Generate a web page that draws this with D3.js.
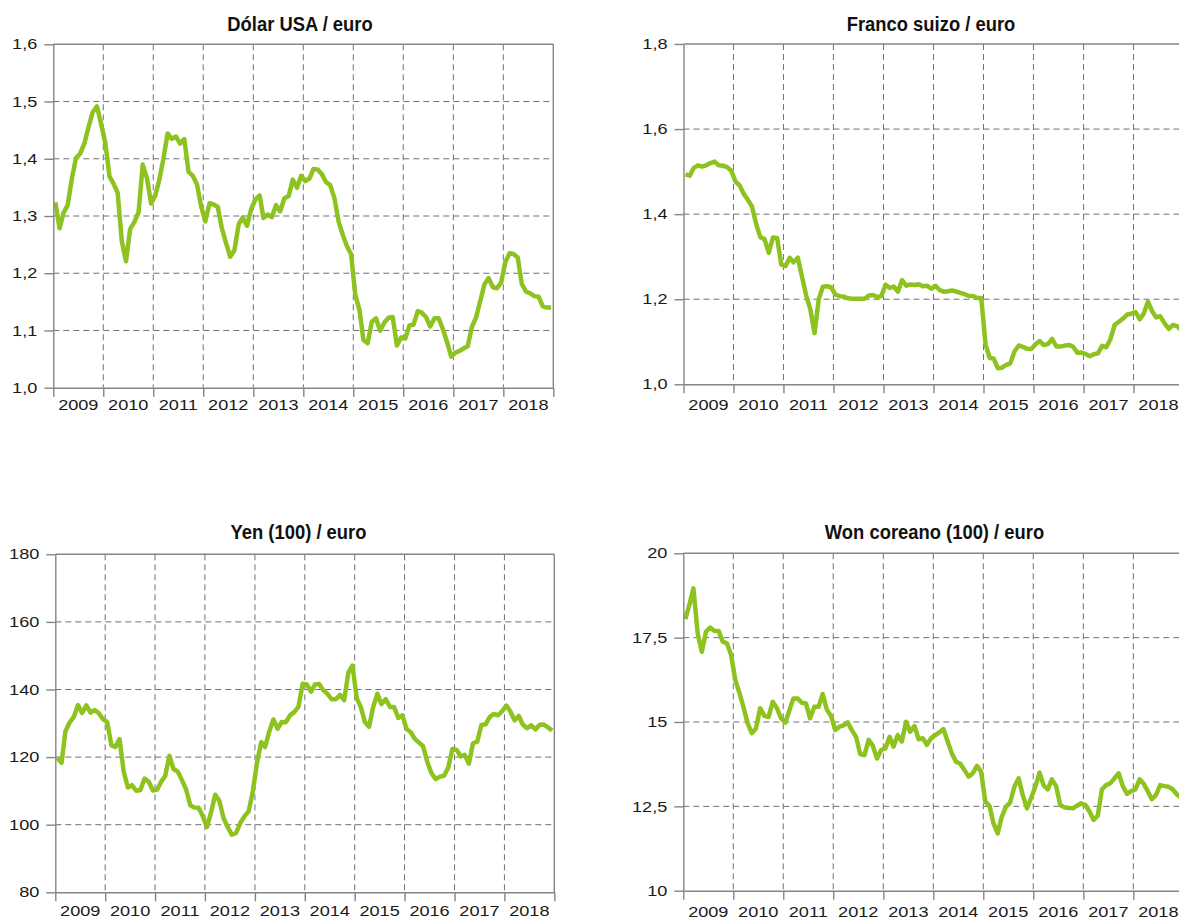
<!DOCTYPE html>
<html><head><meta charset="utf-8">
<script src="https://cdn.jsdelivr.net/npm/d3@7"></script>
<style>body{margin:0;background:#fff} svg{display:block}</style>
</head><body>
<svg id="c" width="1179" height="919"></svg>
<script>
const yearLabels = ["2009","2010","2011","2012","2013","2014","2015","2016","2017","2018"];
const usdTicks = [1.0,1.1,1.2,1.3,1.4,1.5,1.6];
const chfTicks = [1.0,1.2,1.4,1.6,1.8];
const jpyTicks = [80,100,120,140,160,180];
const krwTicks = [10,12.5,15,17.5,20];

const usd = [
1.3239,1.2785,1.3050,1.3190,1.3650,1.4016,1.4088,1.4268,1.4562,1.4816,1.4914,1.4614,
1.4272,1.3686,1.3569,1.3406,1.2565,1.2209,1.2770,1.2894,1.3067,1.3898,1.3661,1.3220,
1.3360,1.3649,1.3999,1.4442,1.4349,1.4388,1.4264,1.4343,1.3770,1.3706,1.3556,1.3179,
1.2905,1.3224,1.3201,1.3162,1.2789,1.2526,1.2288,1.2400,1.2856,1.2974,1.2828,1.3119,
1.3288,1.3359,1.2964,1.3026,1.2982,1.3189,1.3080,1.3310,1.3348,1.3635,1.3493,1.3704,
1.3610,1.3659,1.3823,1.3813,1.3732,1.3592,1.3539,1.3316,1.2901,1.2673,1.2472,1.2331,
1.1621,1.1350,1.0838,1.0779,1.1150,1.1213,1.0996,1.1139,1.1221,1.1235,1.0736,1.0877,
1.0860,1.1093,1.1100,1.1339,1.1311,1.1229,1.1069,1.1212,1.1212,1.1026,1.0799,1.0543,
1.0614,1.0643,1.0685,1.0723,1.1058,1.1229,1.1511,1.1807,1.1915,1.1756,1.1738,1.1836,
1.2200,1.2348,1.2336,1.2276,1.1812,1.1678,1.1650,1.1600,1.1590,1.1420,1.1400,1.1400];

const chf = [
1.4936,1.4904,1.5083,1.5147,1.5118,1.5148,1.5202,1.5236,1.5148,1.5138,1.5105,1.5021,
1.4765,1.4671,1.4482,1.4337,1.4181,1.3767,1.3460,1.3413,1.3089,1.3452,1.3442,1.2811,
1.2779,1.2974,1.2867,1.2977,1.2537,1.2092,1.1766,1.1203,1.2005,1.2295,1.2307,1.2276,
1.2108,1.2071,1.2061,1.2023,1.2012,1.2011,1.2011,1.2011,1.2089,1.2098,1.2052,1.2074,
1.2342,1.2264,1.2299,1.2177,1.2452,1.2317,1.2348,1.2334,1.2350,1.2303,1.2316,1.2245,
1.2317,1.2212,1.2177,1.2189,1.2204,1.2181,1.2150,1.2118,1.2076,1.2078,1.2027,1.2026,
1.0940,1.0618,1.0608,1.0379,1.0391,1.0455,1.0492,1.0777,1.0913,1.0882,1.0833,1.0827,
1.0941,1.1018,1.0922,1.0946,1.1069,1.0890,1.0887,1.0910,1.0925,1.0887,1.0744,1.0745,
1.0714,1.0660,1.0706,1.0727,1.0904,1.0874,1.1059,1.1398,1.1470,1.1546,1.1640,1.1660,
1.1697,1.1527,1.1660,1.1942,1.1724,1.1573,1.1599,1.1432,1.1306,1.1395,1.1365,1.1267];

const jpy = [
119.73,118.30,127.65,130.25,131.85,135.39,133.09,135.31,133.14,133.91,132.97,131.21,
130.34,123.46,123.03,125.33,115.83,110.99,111.73,110.04,110.26,113.67,112.69,110.11,
110.38,112.77,114.40,120.42,116.47,115.75,113.26,110.43,105.75,105.06,105.02,102.55,
99.33,103.77,108.88,107.00,101.97,99.26,97.07,97.58,100.49,102.47,103.94,109.71,
118.34,124.40,122.99,127.54,131.13,128.40,130.39,130.34,132.41,133.32,134.97,141.68,
141.47,139.35,141.48,141.62,139.81,138.72,137.11,137.11,138.39,136.85,145.03,147.06,
137.47,134.69,130.41,128.94,134.75,138.74,135.68,137.12,134.85,134.84,131.60,132.36,
128.32,127.35,125.39,124.29,123.21,118.45,115.25,113.49,114.22,114.47,116.93,122.39,
122.14,120.17,120.68,118.06,124.09,124.58,129.48,129.70,131.92,132.76,132.39,133.64,
135.25,133.29,130.86,132.16,129.57,128.53,129.38,128.20,129.58,129.61,128.79,127.88];

const krw = [
18.05,18.50,18.96,17.63,17.08,17.68,17.80,17.70,17.70,17.38,17.33,16.99,
16.24,15.85,15.45,14.96,14.67,14.81,15.41,15.18,15.15,15.60,15.41,15.11,
14.98,15.36,15.70,15.70,15.57,15.55,15.11,15.45,15.45,15.83,15.36,15.18,
14.76,14.86,14.90,14.99,14.76,14.56,14.05,14.02,14.47,14.30,13.92,14.17,
14.22,14.56,14.27,14.61,14.42,15.01,14.71,14.88,14.49,14.52,14.32,14.52,
14.61,14.70,14.79,14.42,14.07,13.82,13.77,13.58,13.38,13.48,13.70,13.53,
12.64,12.51,12.00,11.70,12.19,12.49,12.61,13.08,13.33,12.84,12.44,12.74,
13.08,13.50,13.13,13.00,13.30,13.10,12.54,12.47,12.45,12.44,12.52,12.59,
12.54,12.34,12.10,12.22,13.00,13.13,13.18,13.33,13.48,13.10,12.87,12.95,
13.00,13.30,13.18,12.95,12.71,12.84,13.13,13.10,13.08,13.00,12.85,12.75];

const fmt1 = v => v.toFixed(1).replace(".", ",");
const fmtInt = v => String(v);
const fmtMix = v => (Number.isInteger(v) ? String(v) : v.toFixed(1)).replace(".", ",");

const panels = [
  {title:"Dólar USA / euro", values:usd, ticks:usdTicks, fmt:fmt1,
   x0:53.3, x1:553.3, yTop:44.3, yBot:387.7, titleX:300, titleY:31, labelY:410},
  {title:"Franco suizo / euro", values:chf, ticks:chfTicks, fmt:fmt1,
   x0:683.5, x1:1183.5, yTop:44, yBot:384.3, titleX:931, titleY:31, labelY:409.5},
  {title:"Yen (100) / euro", values:jpy, ticks:jpyTicks, fmt:fmtInt,
   x0:55.3, x1:554.3, yTop:554.3, yBot:892.3, titleX:298.5, titleY:539, labelY:915.5},
  {title:"Won coreano (100) / euro", values:krw, ticks:krwTicks, fmt:fmtMix,
   x0:683.3, x1:1183.3, yTop:553.3, yBot:890.7, titleX:934.5, titleY:538.5, labelY:916.5}
];

const svg = d3.select("#c");
const months = d3.timeMonth.range(new Date(2009,0,1), new Date(2019,0,1));
const years = d3.timeYear.range(new Date(2009,0,1), new Date(2019,0,2));
const FONT = "'Liberation Sans', Arial, Helvetica, sans-serif";
const AXIS = "#858585", GRID = "#707070", GREEN = "#8dc21f";

panels.forEach(p => {
  const x = d3.scaleTime().domain([years[0], years[years.length-1]]).range([p.x0, p.x1]);
  const y = d3.scaleLinear().domain([p.ticks[0], p.ticks[p.ticks.length-1]]).range([p.yBot, p.yTop]);
  const g = svg.append("g");

  // grid
  g.selectAll(".hg").data(p.ticks.slice(1, -1)).join("line")
    .attr("x1", p.x0).attr("x2", p.x1)
    .attr("y1", d => y(d)).attr("y2", d => y(d))
    .attr("stroke", GRID).attr("stroke-width", 1).attr("stroke-dasharray", "6,4");
  g.selectAll(".vg").data(years.slice(1, -1)).join("line")
    .attr("x1", d => x(d)).attr("x2", d => x(d))
    .attr("y1", p.yTop).attr("y2", p.yBot)
    .attr("stroke", GRID).attr("stroke-width", 1).attr("stroke-dasharray", "6,4");

  // frame top & right
  g.append("line").attr("x1", p.x0).attr("x2", p.x1).attr("y1", p.yTop).attr("y2", p.yTop)
    .attr("stroke", AXIS).attr("stroke-width", 1.4);
  g.append("line").attr("x1", p.x1).attr("x2", p.x1).attr("y1", p.yTop).attr("y2", p.yBot)
    .attr("stroke", AXIS).attr("stroke-width", 1.4);

  // data line
  const line = d3.line()
    .x((d, i) => x(d3.timeDay.offset(months[i], 15)))
    .y(d => y(d));
  g.append("path").datum(p.values).attr("d", line)
    .attr("fill", "none").attr("stroke", GREEN).attr("stroke-width", 4.5)
    .attr("stroke-linejoin", "round");

  // left axis
  const ay = g.append("g").attr("transform", `translate(${p.x0},0)`)
    .call(d3.axisLeft(y).tickValues(p.ticks).tickSize(9).tickSizeOuter(0).tickFormat(p.fmt));
  ay.select(".domain").attr("stroke", AXIS).attr("stroke-width", 1.4);
  ay.selectAll(".tick line").attr("stroke", AXIS).attr("stroke-width", 1.4);
  ay.selectAll(".tick text")
    .attr("x", -16 / 1.25).attr("transform", "scale(1.25,1)")
    .attr("fill", "#1a1a1a").style("font-family", FONT).style("font-size", "14.5px");

  // bottom axis
  const ax = g.append("g").attr("transform", `translate(0,${p.yBot})`)
    .call(d3.axisBottom(x).tickValues(years).tickSize(9).tickSizeOuter(0).tickFormat(""));
  ax.select(".domain").attr("stroke", AXIS).attr("stroke-width", 1.4);
  ax.selectAll(".tick line").attr("stroke", AXIS).attr("stroke-width", 1.4);

  // year labels centred in each year
  g.selectAll(".yl").data(yearLabels).join("text")
    .attr("transform", (d, i) => `translate(${(x(years[i]) + x(years[i+1])) / 2},${p.labelY}) scale(1.25,1)`)
    .attr("text-anchor", "middle").attr("fill", "#1a1a1a")
    .style("font-family", FONT).style("font-size", "14.5px")
    .text(d => d);

  // title
  g.append("text")
    .attr("transform", `translate(${p.titleX},${p.titleY}) scale(0.92,1)`)
    .attr("text-anchor", "middle").attr("fill", "#111")
    .style("font-family", FONT).style("font-size", "20px").style("font-weight", "bold")
    .text(p.title);
});
</script>
</body></html>
